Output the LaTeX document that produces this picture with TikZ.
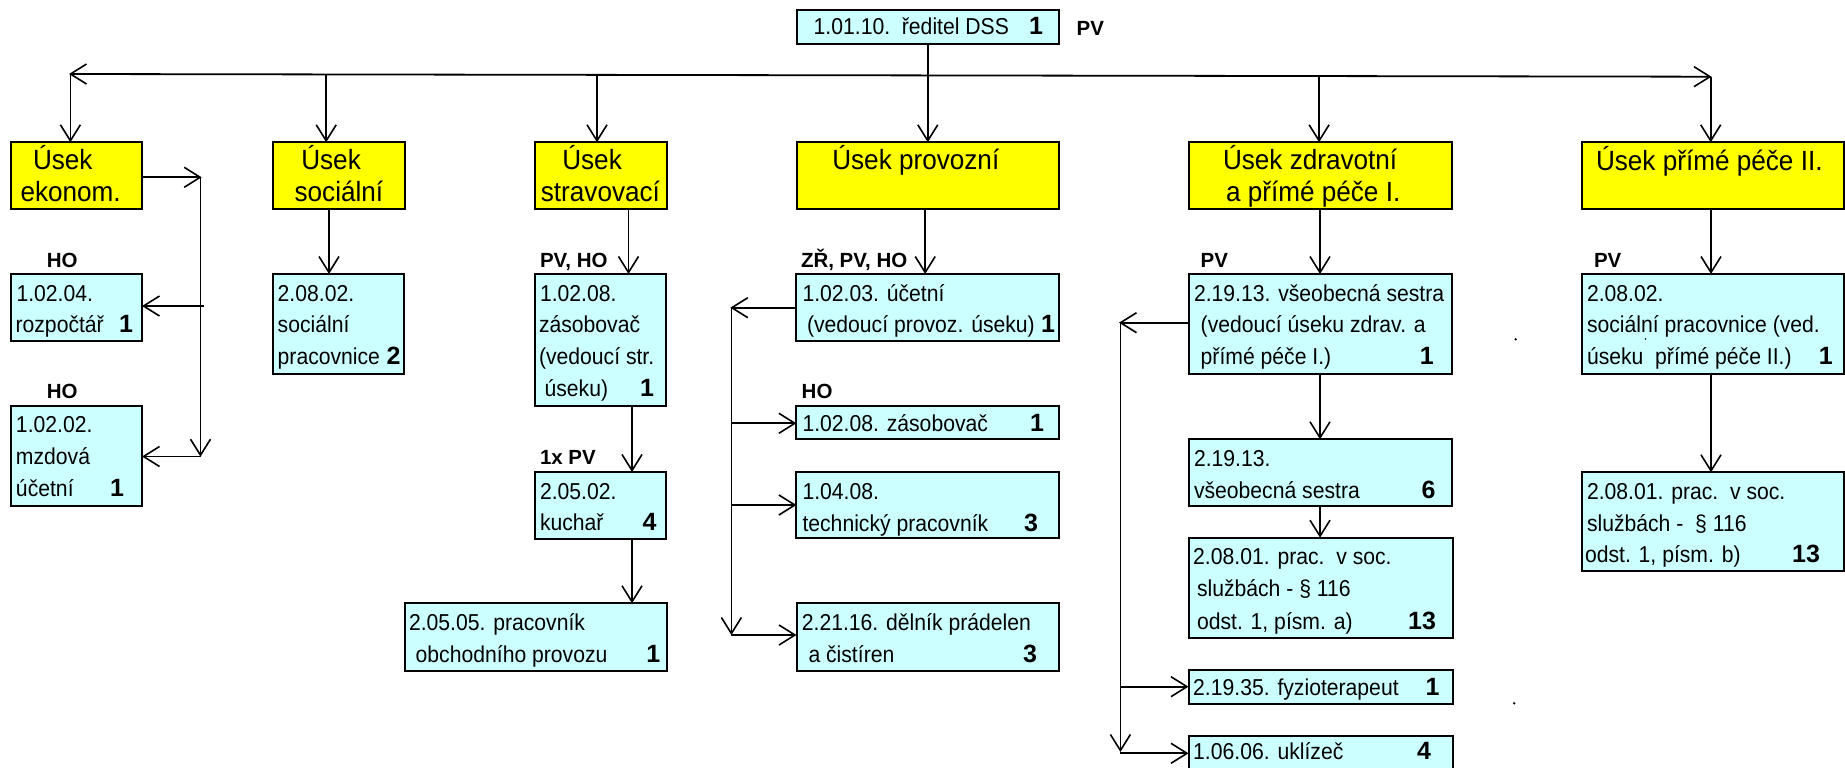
\documentclass[tikz,border=0pt]{standalone}
\usepackage{fontspec}
\setmainfont{Liberation Sans}
\newfontfamily\condfont{Liberation Sans}[FakeStretch=0.92]
\newfontfamily\condtit{Liberation Sans}[FakeStretch=0.94]
\usetikzlibrary{arrows.meta}
\definecolor{boxcyan}{HTML}{CCFFFF}
\definecolor{boxyellow}{HTML}{FFFF00}
\tikzset{
  cbox/.style={draw=black, line width=2pt, fill=boxcyan, inner sep=0pt, outer sep=0pt, anchor=north west},
  ybox/.style={draw=black, line width=2pt, fill=boxyellow, inner sep=0pt, outer sep=0pt, anchor=north west},
  btxt/.style={font=\condfont\fontsize{23}{27}\selectfont, inner sep=0pt, outer sep=0pt, anchor=base west},
  bnum/.style={font=\fontsize{25}{29}\selectfont\bfseries, inner sep=0pt, outer sep=0pt, anchor=base},
  tit/.style={font=\condtit\fontsize{27.8}{32}\selectfont, inner sep=0pt, outer sep=0pt, anchor=base west},
  lab/.style={font=\fontsize{20.5}{24}\selectfont\bfseries, inner sep=0pt, outer sep=0pt, anchor=base west},
  arr/.style={line width=1.7pt, -{Straight Barb[length=16pt,width=20pt,line width=1.6pt]}},
  arrboth/.style={line width=1.8pt, {Straight Barb[length=16pt,width=20pt,line width=1.6pt]}-{Straight Barb[length=16pt,width=20pt,line width=1.6pt]}},
}
\newcommand\mkbox[6]{\node[#6, minimum width={#4-#2}, minimum height={#5-#3}] (#1) at (#2,#3) {};}
\newcommand\mkline[4]{\node[btxt] (#1) at (#2,#3) {#4};}
\newcommand\mknum[4]{\node[bnum] (#1) at (#2,#3) {#4};}
\newcommand\mktit[4]{\node[tit] (#1) at (#2,#3) {#4};}
\newcommand\mklab[4]{\node[lab] (#1) at (#2,#3) {#4};}
\begin{document}
\begin{tikzpicture}[x=1pt,y=-1pt]
\useasboundingbox (0,0) rectangle (1845,768);
\fill[white] (0,0) rectangle (1845,768);

% ---------- boxes ----------
\mkbox{dir}{796.7}{10}{1058.9}{44}{cbox}
\mkbox{ekon}{11.1}{142.3}{142.3}{209}{ybox}
\mkbox{soc}{272.8}{142.3}{404.5}{209}{ybox}
\mkbox{strav}{534.6}{142.3}{666.7}{209}{ybox}
\mkbox{prov}{796.7}{142.3}{1058.9}{209}{ybox}
\mkbox{zdr}{1189.4}{142.3}{1451.8}{209}{ybox}
\mkbox{pp}{1582.2}{142.3}{1843.6}{209}{ybox}

\mkbox{b1}{11.2}{274}{142}{340.7}{cbox}
\mkbox{b2}{11.2}{405.7}{142}{505.7}{cbox}
\mkbox{s1}{273.2}{274}{404}{374}{cbox}
\mkbox{f1}{534.8}{274}{666}{406}{cbox}
\mkbox{f2}{534.8}{472}{666}{538.7}{cbox}
\mkbox{f3}{404.6}{603.3}{666.6}{670.7}{cbox}
\mkbox{p1}{796.4}{274}{1058.8}{340.7}{cbox}
\mkbox{p2}{796.4}{405.7}{1058.8}{439.3}{cbox}
\mkbox{p3}{796.4}{472.3}{1058.8}{537.7}{cbox}
\mkbox{p4}{796.5}{603.3}{1058.5}{670.7}{cbox}
\mkbox{z1}{1188.8}{274}{1451.6}{374}{cbox}
\mkbox{z2}{1188.8}{439.3}{1451.6}{505.7}{cbox}
\mkbox{z3}{1188.5}{537.7}{1452.5}{638.3}{cbox}
\mkbox{z4}{1188.5}{670}{1452.5}{704.3}{cbox}
\mkbox{z5}{1188.5}{736}{1452.5}{771}{cbox}
\mkbox{q1}{1582.2}{274}{1843.6}{374}{cbox}
\mkbox{q2}{1582.2}{472.3}{1843.6}{571}{cbox}

% ---------- texts ----------
\mkline{dirt}{813.7}{35}{1.01.10.\ \ ředitel DSS}
\mknum{dirn}{1036}{35}{1}
\mklab{dirl}{1076.7}{35.3}{PV}

\mktit{ekon1}{33}{169}{Úsek}
\mktit{ekon2}{20.5}{201.5}{ekonom.}
\mktit{soc1}{301.3}{169}{Úsek}
\mktit{soc2}{294.6}{201.5}{sociální}
\mktit{strav1}{562.3}{169}{Úsek}
\mktit{strav2}{540.9}{201.5}{stravovací}
\mktit{prov1}{832.3}{169.5}{Úsek provozní}
\mktit{zdr1}{1223}{169}{Úsek zdravotní}
\mktit{zdr2}{1226}{201.5}{a přímé péče I.}
\mktit{pp1}{1596}{170}{Úsek přímé péče II.}

\mklab{lb1}{46.9}{267.3}{HO}
\mkline{b1a}{16.5}{301}{1.02.04.}
\mkline{b1b}{15.6}{332.7}{rozpočtář}
\mknum{b1n}{126}{332.7}{1}

\mklab{lb2}{46.9}{398}{HO}
\mkline{b2a}{16}{432.7}{1.02.02.}
\mkline{b2b}{16}{464.4}{mzdová}
\mkline{b2c}{16}{496.1}{účetní}
\mknum{b2n}{117}{496.1}{1}

\mkline{s1a}{277.7}{301}{2.08.02.}
\mkline{s1b}{277.7}{332.7}{sociální}
\mkline{s1c}{277.7}{364.4}{pracovnice}
\mknum{s1n}{393.5}{364.4}{2}

\mklab{lf1}{540}{267.3}{PV, HO}
\mkline{f1a}{540}{301}{1.02.08.}
\mkline{f1b}{539}{332.7}{zásobovač}
\mkline{f1c}{539}{364.4}{(vedoucí str.}
\mkline{f1d}{544.6}{396.1}{úseku)}
\mknum{f1n}{647}{396.1}{1}

\mklab{lf2}{540}{464.3}{1x PV}
\mkline{f2a}{540}{499}{2.05.02.}
\mkline{f2b}{540}{530.7}{kuchař}
\mknum{f2n}{649.5}{530.7}{4}

\mkline{f3a}{409}{630.3}{2.05.05. pracovník}
\mkline{f3b}{415.7}{662}{obchodního provozu}
\mknum{f3n}{653.4}{662}{1}

\mklab{lp1}{801}{267.3}{ZŘ, PV, HO}
\mkline{p1a}{802.5}{301}{1.02.03. účetní}
\mkline{p1b}{807}{332.7}{(vedoucí provoz. úseku)}
\mknum{p1n}{1048}{332.7}{1}

\mklab{lp2}{801.7}{398}{HO}
\mkline{p2a}{802.5}{431}{1.02.08. zásobovač}
\mknum{p2n}{1037}{431}{1}

\mkline{p3a}{802.5}{499.3}{1.04.08.}
\mkline{p3b}{802.5}{531}{technický pracovník}
\mknum{p3n}{1031}{531}{3}

\mkline{p4a}{801.9}{630.3}{2.21.16. dělník prádelen}
\mkline{p4b}{808.5}{662}{a čistíren}
\mknum{p4n}{1030}{662}{3}

\mklab{lz1}{1200.7}{267.3}{PV}
\mkline{z1a}{1194}{301}{2.19.13. všeobecná sestra}
\mkline{z1b}{1200.7}{332.7}{(vedoucí úseku zdrav. a}
\mkline{z1c}{1200.7}{364.4}{přímé péče I.)}
\mknum{z1n}{1426.7}{364.4}{1}

\mkline{z2a}{1194}{466.3}{2.19.13.}
\mkline{z2b}{1194}{498}{všeobecná sestra}
\mknum{z2n}{1428.5}{498}{6}

\mkline{z3a}{1193.2}{564.7}{2.08.01. prac.\ \ v soc.}
\mkline{z3b}{1197}{596.4}{službách - § 116}
\mkline{z3c}{1197}{629}{odst. 1, písm. a)}
\mknum{z3n}{1422}{629}{13}

\mkline{z4a}{1193.2}{695}{2.19.35. fyzioterapeut}
\mknum{z4n}{1432.5}{695}{1}

\mkline{z5a}{1193.2}{759.5}{1.06.06. uklízeč}
\mknum{z5n}{1424}{759.5}{4}

\mklab{lq1}{1594}{267.3}{PV}
\mkline{q1a}{1587}{301}{2.08.02.}
\mkline{q1b}{1587}{332.7}{sociální pracovnice (ved.}
\mkline{q1c}{1587}{364.4}{úseku\ \ přímé péče II.)}
\mknum{q1n}{1825.7}{364.4}{1}

\mkline{q2a}{1587}{499.3}{2.08.01. prac.\ \ v soc.}
\mkline{q2b}{1587}{531}{službách -\ \ § 116}
\mkline{q2c}{1585}{562.7}{odst. 1, písm. b)}
\mknum{q2n}{1806}{562.7}{13}

% ---------- connectors ----------
\coordinate (topL) at (69,74);
\coordinate (topR) at (1711.5,76.7);
\draw[arrboth] (topL) -- (topR);
\coordinate (br1) at (70.4,74);
\coordinate (br2) at (326.2,74.4);
\coordinate (br3) at (597,74.9);
\coordinate (br4) at (1319.1,76);
\coordinate (br5) at (1710.7,76.7);
\draw[arr] (br1) -- (br1 |- ekon.north);
\draw[arr] (br2) -- (br2 |- soc.north);
\draw[arr] (br3) -- (br3 |- strav.north);
\draw[arr] (br4) -- (br4 |- zdr.north);
\draw[arr] (br5) -- (br5 |- pp.north);
\draw[arr] (dir.south) -- (prov.north);

% ekonom
\coordinate (e1) at (201.7,177.3);
\draw[arr] (ekon.east |- e1) -- (e1);
\coordinate (e2) at (200.5,177.3);
\coordinate (e3) at (200.5,456.7);
\draw[arr] (e2) -- (e3);
\coordinate (e4) at (204,306);
\draw[arr] (e4) -- (e4 -| b1.east);
\coordinate (e5) at (200.5,456.5);
\draw[arr] (e5) -- (e5 -| b2.east);

% socialni
\coordinate (sx) at (329,0);
\draw[arr] (sx |- soc.south) -- (sx |- s1.north);

% stravovaci
\coordinate (fx) at (628.5,0);
\draw[arr] (fx |- strav.south) -- (fx |- f1.north);
\coordinate (gx) at (632,0);
\draw[arr] (gx |- f1.south) -- (gx |- f2.north);
\draw[arr] (gx |- f2.south) -- (gx |- f3.north);

% provozni
\coordinate (hx) at (925.2,0);
\draw[arr] (hx |- prov.south) -- (hx |- p1.north);
\coordinate (pl) at (730.3,307.7);
\draw[arr] (pl -| p1.west) -- (pl);
\coordinate (pv1) at (731.4,307.7);
\coordinate (pv2) at (731.4,635);
\draw[arr] (pv1) -- (pv2);
\coordinate (pb1) at (731.4,423.3);
\coordinate (pb2) at (731.4,505);
\coordinate (pb3) at (731.4,635);
\draw[arr] (pb1) -- (pb1 -| p2.west);
\draw[arr] (pb2) -- (pb2 -| p3.west);
\draw[arr] (pb3) -- (pb3 -| p4.west);

% zdravotni
\coordinate (kx) at (1320,0);
\draw[arr] (kx |- zdr.south) -- (kx |- z1.north);
\draw[arr] (kx |- z1.south) -- (kx |- z2.north);
\draw[arr] (kx |- z2.south) -- (kx |- z3.north);
\coordinate (zl) at (1119,322.7);
\draw[arr] (zl -| z1.west) -- (zl);
\coordinate (zv1) at (1120.4,322.7);
\coordinate (zv2) at (1120.4,752);
\draw[arr] (zv1) -- (zv2);
\coordinate (zb1) at (1120.4,686.7);
\coordinate (zb2) at (1120.4,753.3);
\draw[arr] (zb1) -- (zb1 -| z4.west);
\draw[arr] (zb2) -- (zb2 -| z5.west);

% prime pece II
\coordinate (mx) at (1711,0);
\draw[arr] (mx |- pp.south) -- (mx |- q1.north);
\draw[arr] (mx |- q1.south) -- (mx |- q2.north);

% stray dots
\fill (1515.7,339.3) circle[radius=1.3pt];
\fill (1514.2,703.3) circle[radius=1.3pt];
\fill (1645.4,339) circle[radius=0.9pt];
\end{tikzpicture}
\end{document}
